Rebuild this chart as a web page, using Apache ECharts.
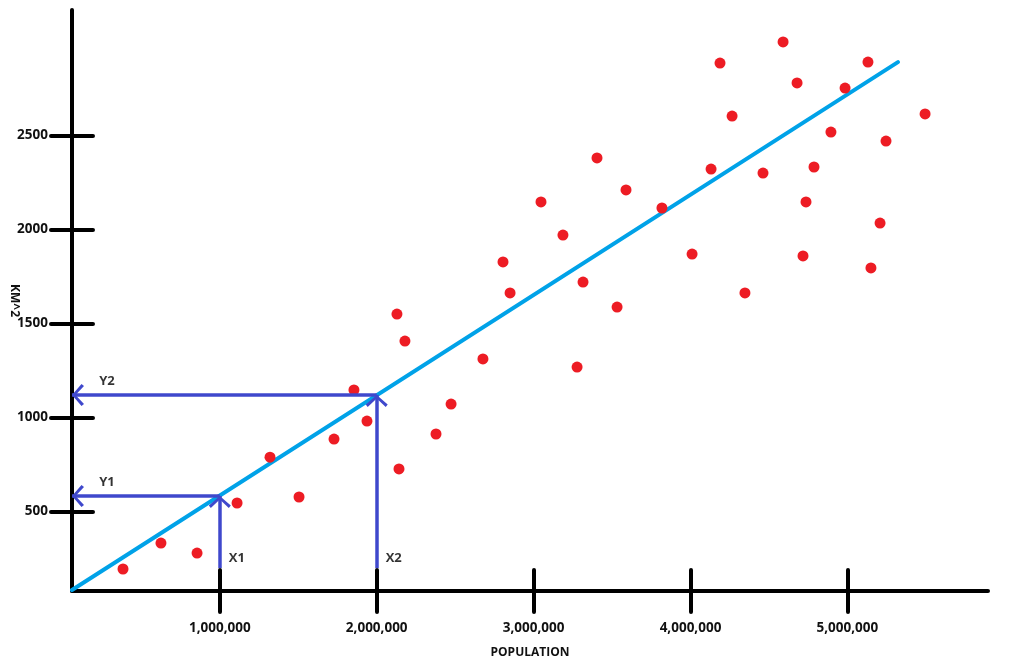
<!DOCTYPE html>
<html>
<head>
<meta charset="utf-8">
<title>Population vs KM^2</title>
<script src="https://cdn.jsdelivr.net/npm/echarts@6/dist/echarts.min.js"></script>
<style>
html,body{margin:0;padding:0;background:#fff;}
#main{width:1013px;height:669px;}
</style>
</head>
<body>
<div id="main"></div>
<script>
// points (population, km^2)
var population = [383000, 625000, 855000, 1110000, 1320000, 1505000, 1728000, 1855000, 1938000, 2142000,
                  2378000, 2474000, 2677000, 2180000, 2129000, 2805000, 2850000, 3047000, 3187000, 3277000,
                  3315000, 3404000, 3532000, 3589000, 3818000, 4010000, 4131000, 4188000, 4265000, 4347000,
                  4462000, 4590000, 4679000, 4717000, 4736000, 4787000, 4895000, 4985000, 5131000, 5150000,
                  5208000, 5246000, 5495000];
var area = [194, 332, 279, 545, 789, 577, 885, 1146, 981, 726,
            912, 1071, 1311, 1406, 1550, 1827, 1662, 2146, 1970, 1268,
            1720, 2380, 1587, 2210, 2114, 1869, 2321, 2885, 2603, 1662,
            2300, 2997, 2779, 1859, 2146, 2332, 2518, 2752, 2890, 1795,
            2034, 2470, 2614];

var xTicks = [1000000, 2000000, 3000000, 4000000, 5000000];
var yTicks = [500, 1000, 1500, 2000, 2500];

// hand drawn trend line (start, end)
var fitPop = [58000, 5322000];
var fitArea = [82, 2890];

// the two X -> Y read-offs
var guidePop = [1000000, 2000000];
var guideArea = [582, 1120];
var guideFrom = 199;
var guideXNames = ['X1', 'X2'];
var guideYNames = ['Y1', 'Y2'];

var xMin = 58000, xMax = 5896000;
var yMin = 77, yMax = 3167;

var FONT = '"Open Sans", "DejaVu Sans", sans-serif';
var chevron = 'path://M11 0 L11 0 Z M11 12 L22 21.5 L20 24 L11 15.5 L2 24 L0 21.5 Z';

var points = population.map(function (p, i) { return [p, area[i]]; });
var fitData = fitPop.map(function (p, i) { return [p, fitArea[i]]; });

var guideLines = [];
guidePop.forEach(function (p, i) {
    guideLines.push([{ coord: [p, guideFrom] }, { coord: [p, guideArea[i]] }]);
    guideLines.push([{ coord: [p, guideArea[i]] }, { coord: [xMin, guideArea[i]] }]);
});

var xNameData = guidePop.map(function (p, i) { return { name: guideXNames[i], value: [p, guideFrom] }; });
var yNameData = guideArea.map(function (a, i) { return { name: guideYNames[i], value: [xMin, a] }; });

var black = '#000';

function mainAxis(ticks, extra) {
    var ax = {
        type: 'value',
        splitLine: { show: false },
        nameMoveOverlap: false,
        axisLine: { show: true, onZero: false, lineStyle: { color: black, width: 4, cap: 'round' } },
        axisTick: { show: true, inside: false, length: 21, customValues: ticks,
                    lineStyle: { color: black, width: 4, cap: 'round' } },
        axisLabel: { customValues: ticks, color: '#111', fontFamily: FONT, fontWeight: 'bold', fontSize: 13.5 }
    };
    for (var k in extra) ax[k] = extra[k];
    return ax;
}

function innerTicks(ticks, extra) {
    var ax = {
        type: 'value',
        splitLine: { show: false },
        axisLine: { show: false, onZero: false },
        axisTick: { show: true, inside: true, length: 21, customValues: ticks,
                    lineStyle: { color: black, width: 4, cap: 'round' } },
        axisLabel: { show: false }
    };
    for (var k in extra) ax[k] = extra[k];
    return ax;
}

var myChart = echarts.init(document.getElementById('main'));

var option = {
    animation: false,
    backgroundColor: '#fff',
    grid: { left: 72, right: 25, top: 10, bottom: 78, containLabel: false, outerBoundsMode: 'none' },
    xAxis: [
        mainAxis(xTicks, {
            position: 'bottom', min: xMin, max: xMax,
            name: 'POPULATION', nameLocation: 'middle', nameGap: 56,
            nameTextStyle: { color: '#111', fontFamily: FONT, fontWeight: 'bold', fontSize: 12 }
        }),
        innerTicks(xTicks, { position: 'bottom', min: xMin, max: xMax })
    ],
    yAxis: [
        mainAxis(yTicks, {
            position: 'left', min: yMin, max: yMax,
            name: 'KM^2', nameLocation: 'middle', nameGap: 52, nameRotate: -90,
            nameTextStyle: { color: '#111', fontFamily: FONT, fontWeight: 'bold', fontSize: 12 }
        }),
        innerTicks(yTicks, { position: 'left', min: yMin, max: yMax })
    ],
    series: [
        {
            name: 'trend',
            type: 'line',
            data: fitData,
            showSymbol: false,
            silent: true,
            z: 2,
            lineStyle: { color: '#00a2e8', width: 4, cap: 'round' }
        },
        {
            name: 'guides',
            type: 'line',
            data: [],
            z: 3,
            markLine: {
                silent: true,
                animation: false,
                symbol: ['none', chevron],
                symbolSize: [22, 24],
                label: { show: false },
                lineStyle: { color: '#3f48cc', width: 3.5, type: 'solid' },
                emphasis: { disabled: true },
                data: guideLines
            }
        },
        {
            name: 'cities',
            type: 'scatter',
            data: points,
            symbolSize: 11,
            z: 4,
            itemStyle: { color: '#ed1c24', opacity: 1 }
        },
        {
            name: 'xNames',
            type: 'scatter',
            data: xNameData,
            symbolSize: 0,
            silent: true,
            label: { show: true, position: 'inside', offset: [17, -10], formatter: '{b}',
                     color: '#000', fontFamily: FONT, fontWeight: 'bold', fontSize: 13 }
        },
        {
            name: 'yNames',
            type: 'scatter',
            data: yNameData,
            symbolSize: 0,
            silent: true,
            label: { show: true, position: 'inside', offset: [35, -14], formatter: '{b}',
                     color: '#000', fontFamily: FONT, fontWeight: 'bold', fontSize: 13 }
        }
    ]
};

option.xAxis[0].axisLabel.margin = 30;
option.xAxis[0].axisLabel.formatter = function (v) { return v.toLocaleString('en-US'); };
option.yAxis[0].axisLabel.margin = 24;
option.yAxis[0].axisLabel.formatter = function (v) { return String(v); };

myChart.setOption(option);
</script>
</body>
</html>
